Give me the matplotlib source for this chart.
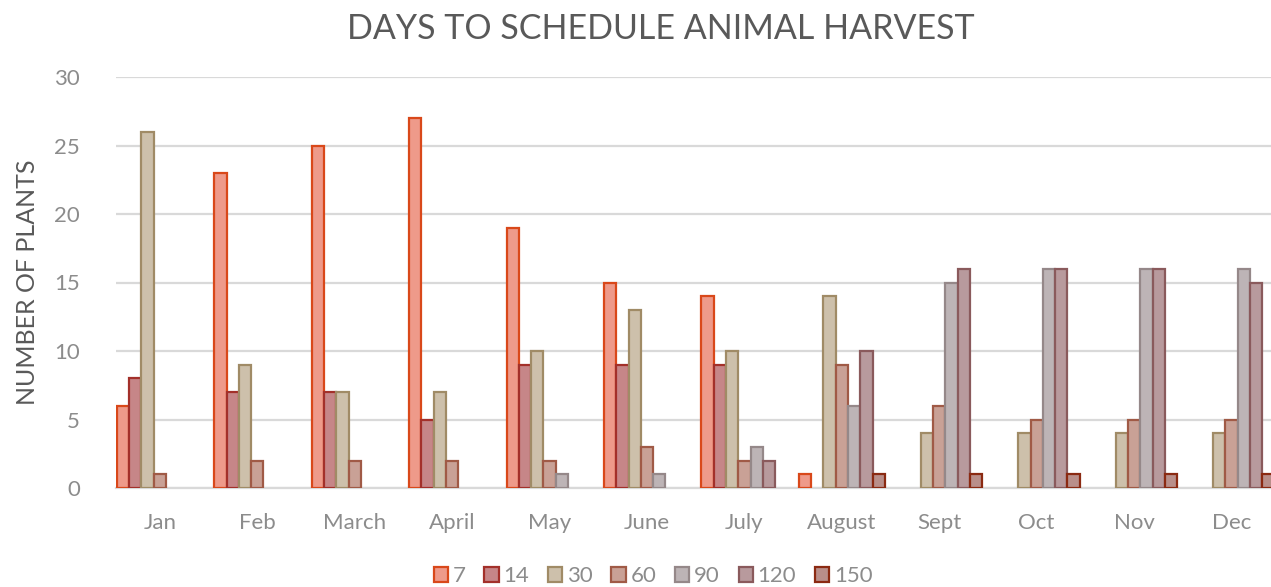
import matplotlib.pyplot as plt
import numpy as np

plt.rcParams['font.family'] = ['Lato', 'DejaVu Sans']

months = ['Jan', 'Feb', 'March', 'April', 'May', 'June', 'July', 'August',
          'Sept', 'Oct', 'Nov', 'Dec']
series = ['7', '14', '30', '60', '90', '120', '150']

d7 = [6, 23, 25, 27, 19, 15, 14, 1, 0, 0, 0, 0]
d14 = [8, 7, 7, 5, 9, 9, 9, 0, 0, 0, 0, 0]
d30 = [26, 9, 7, 7, 10, 13, 10, 14, 4, 4, 4, 4]
d60 = [1, 2, 2, 2, 2, 3, 2, 9, 6, 5, 5, 5]
d90 = [0, 0, 0, 0, 1, 1, 3, 6, 15, 16, 16, 16]
d120 = [0, 0, 0, 0, 0, 0, 2, 10, 16, 16, 16, 15]
d150 = [0, 0, 0, 0, 0, 0, 0, 1, 1, 1, 1, 1]
values = [d7, d14, d30, d60, d90, d120, d150]

fills = ['#ee9a8a', '#c68688', '#cdc0ab', '#c9a196', '#bdb4b6', '#b89a9d', '#b98f8a']
edges = ['#d9481a', '#a3302a', '#a08b66', '#a05a46', '#958889', '#8a5a5c', '#8b2a12']

fig = plt.figure(figsize=(12.71, 5.87), dpi=100)
ax = fig.add_axes([116/1271, 99/587, 1 - 116/1271, 411/587])

x = np.arange(len(months))
w = 0.126
for k, (vals, fc, ec) in enumerate(zip(values, fills, edges)):
    xs = x + (k - 3) * w
    v = np.array(vals, dtype=float)
    mask = v > 0
    ax.bar(xs[mask], v[mask], width=w, color=fc, edgecolor=ec, linewidth=1.6,
           zorder=3, label=series[k])

ax.set_xlim(-0.45, 11.405)
ax.set_ylim(0, 30)
ax.set_yticks(range(0, 31, 5))
ax.yaxis.grid(True, color='#d9d9d9', linewidth=1.6, zorder=0)
ax.set_axisbelow(True)
for s in ['top', 'right', 'left']:
    ax.spines[s].set_visible(False)
ax.spines['bottom'].set_color('#d9d9d9')
ax.spines['bottom'].set_linewidth(1.6)
ax.tick_params(axis='both', length=0, colors='#8c8c8c', labelsize=16)
ax.tick_params(axis='y', pad=26)
ax.tick_params(axis='x', pad=18)
ax.set_xticks(x)
ax.set_xticklabels(months)

ax.set_ylabel('NUMBER OF PLANTS', fontsize=18, color='#595959', labelpad=11)
fig.text(661/1271, 1 - 29/587, 'DAYS TO SCHEDULE ANIMAL HARVEST', ha='center',
         va='center', fontsize=24.5, color='#595959')

fig.legend(loc='center', bbox_to_anchor=(653/1271, 1 - 576/587), ncol=7,
           frameon=False, fontsize=16, labelcolor='#8c8c8c', handlelength=0.65,
           handleheight=0.65, handletextpad=0.2, columnspacing=0.85)

fig.savefig('out.png', dpi=100)
